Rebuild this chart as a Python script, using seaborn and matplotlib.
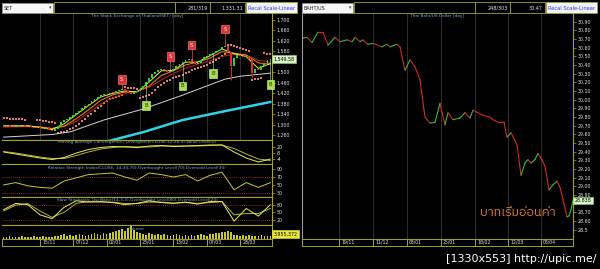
import numpy as np
import pandas as pd
import matplotlib
matplotlib.use("Agg")
import matplotlib.pyplot as plt
import matplotlib.font_manager as fm
from matplotlib.patches import Rectangle
import seaborn as sns

# ---------------- data ----------------
set_close = [1295, 1298, 1292, 1290, 1296, 1300, 1297, 1293, 1295, 1290,
             1287, 1291, 1285, 1282, 1286, 1280, 1277, 1283, 1295, 1308,
             1316, 1322, 1330, 1338, 1345, 1352, 1362, 1372, 1380, 1390,
             1396, 1404, 1412, 1418, 1415, 1422, 1420, 1426, 1430, 1434,
             1426, 1420, 1418, 1424, 1428, 1436, 1448, 1462, 1478, 1494,
             1502, 1508, 1512, 1506, 1500, 1504, 1510, 1522, 1530, 1540,
             1545, 1548, 1538, 1532, 1536, 1545, 1556, 1562, 1568, 1574,
             1580, 1586, 1594, 1600, 1578, 1525, 1552, 1566, 1560, 1556,
             1562, 1548, 1495, 1512, 1508, 1522, 1532, 1545, 1550]
set_spike_idx = [75, 82]
set_spike_low = [1470, 1478]
nan = np.nan
set_sar = [1324, 1323, 1322, 1322, 1321, 1320, 1320, 1319, nan, nan,
           nan, 1318, 1316, 1314, 1312, 1310, 1308, 1305, 1268, 1270,
           1273, 1277, 1282, 1288, 1295, 1303, 1312, 1322, 1332, 1342,
           1352, 1362, 1372, 1381, 1389, 1396, 1401, 1405, 1408, 1411,
           1442, 1441, 1440, 1438, 1436, 1401, 1404, 1408, 1414, 1422,
           1432, 1443, 1452, 1460, 1466, 1471, 1476, 1480, 1485, 1490,
           1496, 1502, 1508, 1512, 1515, 1518, 1522, 1527, 1533, 1540,
           1547, 1554, 1562, 1568, 1605, 1603, 1600, 1596, 1592, 1588,
           1584, 1580, 1470, 1472, 1474, 1476, 1572, 1570, 1568]
ind_idx = [0, 4, 8, 12, 16, 20, 24, 28, 32, 36, 40, 44, 48, 52, 56, 60, 64, 68, 72, 76, 80, 84, 88]
ma_yellow = [1295, 1295, 1295, 1288, 1281, 1303, 1338, 1372, 1405, 1419, 1428, 1424, 1462, 1505, 1506, 1538, 1538, 1562, 1588, 1570, 1559, 1514, 1533]
ma_orange = [1295, 1295, 1295, 1291, 1285, 1294, 1322, 1356, 1392, 1413, 1424, 1426, 1447, 1487, 1505, 1527, 1538, 1553, 1578, 1572, 1565, 1535, 1530]
ma_red = [1290, 1291, 1292, 1290, 1285, 1292, 1312, 1345, 1378, 1402, 1418, 1426, 1442, 1470, 1495, 1515, 1530, 1543, 1560, 1568, 1565, 1545, 1538]
ma_white_idx = [0, 16, 22, 33, 46, 59, 73, 78, 88]
ma_white = [1252, 1262, 1272, 1317, 1359, 1412, 1473, 1484, 1496]
ma_cyan_idx = [33, 46, 59, 73, 88]
ma_cyan = [1232, 1271, 1317, 1351, 1386]
sig_idx = [39, 55, 62, 73, 47, 59, 69, 88]
sig_type = ["S", "S", "S", "S", "B", "B", "B", "B"]
sig_level = [1470, 1561, 1603, 1664, 1374, 1447, 1496, 1454]
macd = [10, 6, 2, -2, -5, -1, 8, 15, 19, 21, 20, 19, 22, 23, 21, 22, 23, 24, 24, 10, -2, -10, -4]
macd_sig = [11, 8, 4, 0, -3, -3, 3, 10, 16, 19, 21, 20, 20, 22, 22, 22, 22, 23, 24, 17, 6, -4, -7]
rsi = [50, 56, 48, 44, 42, 60, 68, 76, 78, 80, 70, 62, 80, 76, 70, 76, 60, 74, 82, 38, 56, 44, 56]
stoch_k = [60, 85, 80, 40, 25, 70, 95, 90, 92, 88, 80, 85, 95, 88, 85, 90, 82, 92, 92, 15, 65, 35, 80]
stoch_d = [55, 78, 84, 55, 30, 50, 85, 92, 90, 90, 84, 84, 90, 90, 86, 88, 85, 88, 92, 40, 45, 45, 65]
volume = [2.5, 2, 3, 2, 2.5, 2, 3, 2.5, 2, 2, 3, 2.5, 2, 3, 2, 2.5, 2, 3,
          3, 4, 5, 3.5, 4, 3, 4, 5, 4, 3.5, 4, 5, 6, 5, 4, 6,
          5, 6, 7, 8, 9, 10, 8, 11, 13, 9, 7, 6,
          5, 4, 6, 5, 4, 5, 4, 5, 4, 3.5, 4, 5, 4, 3.5, 4,
          3.5, 4, 3, 4, 5, 4, 3.5, 5, 5, 6, 6, 7, 7,
          8, 7, 4, 4, 3.5, 4, 3, 4, 3, 3.5, 3, 4, 3, 3.5, 3]
# 1,540 is hidden under the last-price box in the picture
set_ticks = ["1,700", "1,660", "1,620", "1,580", "1,500", "1,460",
             "1,420", "1,380", "1,340", "1,300", "1,260"]
macd_ticks = ["20", "8", "-4"]
rsi_ticks = ["90", "70", "50", "30"]
stoch_ticks = ["80", "50", "20"]
set_dates = ["15/11", "07/12", "02/01", "23/01", "13/02", "07/03", "28/03"]
set_date_pos = [12, 23, 34, 45, 56, 67, 78]

baht_day = [0.5, 2.5, 5, 8, 10.5, 13, 16.5, 19, 22.5, 25, 26.5, 29, 30.5, 33, 35.5,
            40, 42.5, 44, 47.5, 49, 51.5, 54, 56.5, 59, 61.5, 64, 66.5, 69, 71.5, 73,
            75.5, 79, 81.5, 84, 85.5, 88, 90.5, 94, 95.5, 98, 101, 102.5, 104.5, 107.5,
            109.5, 111.5, 113, 114.5, 116.5, 118, 120, 121.5, 123.5, 125.5, 127.5, 129,
            130.5, 132.5, 133.5, 134.5, 135.5]
baht = [30.71, 30.72, 30.66, 30.78, 30.78, 30.63, 30.72, 30.67, 30.69, 30.67, 30.72,
        30.67, 30.69, 30.64, 30.65, 30.61, 30.64, 30.61, 30.64, 30.61, 30.34, 30.46,
        30.38, 30.23, 29.80, 29.73, 29.74, 29.96, 29.71, 29.85, 29.77, 29.79, 29.85,
        29.79, 29.88, 29.85, 29.82, 29.80, 29.77, 29.74, 29.74, 29.57, 29.62, 29.48,
        29.13, 29.27, 29.31, 29.27, 29.31, 29.38, 29.31, 29.23, 28.96, 29.02, 29.06,
        28.99, 28.85, 28.65, 28.66, 28.73, 28.84]
# 28.80 is hidden under the last-price box in the picture
baht_ticks = ["30.90", "30.80", "30.70", "30.60", "30.50", "30.40", "30.30", "30.20",
              "30.10", "30.00", "29.90", "29.80", "29.70", "29.60", "29.50", "29.40",
              "29.30", "29.20", "29.10", "29.00", "28.90", "28.70", "28.60", "28.5"]
baht_dates = ["19/11", "11/12", "03/01", "25/01", "18/02", "12/03", "03/04"]
baht_date_pos = [18.5, 35.5, 52.5, 69.5, 86.5, 103, 119.5]

# ---------------- style ----------------
sns.set_theme(style="dark")
OL = "#a3a326"
GRID = "#383838"
TXT = "#e6e6e6"
TITLE = "#78a8dc"
plt.rcParams.update({
    "font.family": ["DejaVu Sans"],
    "figure.facecolor": "black", "axes.facecolor": "black", "savefig.facecolor": "black",
    "axes.edgecolor": OL, "axes.grid": False, "axes.linewidth": 0.8,
    "xtick.color": OL, "ytick.color": OL, "text.color": TXT,
})
TICK_FS = 3.4
TITLE_FS = 3.1

W, H = 600, 269
fig = plt.figure(figsize=(W / 100, H / 100), dpi=100)


def rect(x0, y0, x1, y1):
    return [x0 / W, 1 - y1 / H, (x1 - x0) / W, (y1 - y0) / H]


def style(ax, xlim, ylim, labels=None, grid_pos=None, left=False):
    ax.set_facecolor("black")
    ax.set_xlim(*xlim)
    ax.set_ylim(*ylim)
    ax.spines["left"].set_visible(left)
    for s in ("top", "bottom", "right"):
        ax.spines[s].set_color(OL)
        ax.spines[s].set_linewidth(0.8)
    ax.yaxis.tick_right()
    if labels:
        ax.set_yticks([float(l.replace(",", "")) for l in labels])
        ax.set_yticklabels(labels)
    else:
        ax.set_yticks([])
    ax.tick_params(axis="y", labelsize=TICK_FS, labelcolor=TXT, color=OL, length=2,
                   width=0.5, pad=1.5)
    ax.set_xticks(grid_pos if grid_pos else [])
    ax.tick_params(axis="x", length=0, labelbottom=False)
    if grid_pos:
        ax.grid(axis="x", color=GRID, lw=0.6)
        ax.set_axisbelow(True)
    ax.set_xlabel("")
    ax.set_ylabel("")


def title(ax, text, y):
    ax.text(0.5, y, text, transform=ax.transAxes, ha="center", va="center",
            fontsize=TITLE_FS, color=TITLE, zorder=1)


idx = np.arange(len(set_close))
XL = (-0.5, len(set_close) - 0.5)
close = np.array(set_close, float)
opn = np.r_[close[0], close[:-1]]
up = close >= opn
lo = np.minimum(opn, close)
hi = np.maximum(opn, close)

# ---------------- SET main panel ----------------
ax = fig.add_axes(rect(2, 12, 272, 140))
title(ax, "The Stock Exchange of Thailand(SET) [day]", 0.965)
sns.lineplot(x=ma_cyan_idx, y=ma_cyan, ax=ax, color="#2fd3e6", lw=1.8)
sns.lineplot(x=ma_white_idx, y=ma_white, ax=ax, color="#d4d4d4", lw=0.7)
sns.lineplot(x=ind_idx, y=ma_red, ax=ax, color="#c42222", lw=0.7)
sns.scatterplot(x=idx, y=set_sar, ax=ax, color="#e27a7a", s=1.0, linewidth=0, marker="s")
ax.vlines(set_spike_idx, set_spike_low, lo[set_spike_idx], color="#e52b2b", lw=0.7)
ax.bar(idx, np.maximum(hi - lo, 3), bottom=lo, width=0.62,
       color=np.where(up, "#27d827", "#e52b2b"), lw=0, zorder=3)
sns.lineplot(x=ind_idx, y=ma_orange, ax=ax, color="#f08a1e", lw=0.7)
sns.lineplot(x=ind_idx, y=ma_yellow, ax=ax, color="#eeee3a", lw=0.7)
for i, t, lvl in zip(sig_idx, sig_type, sig_level):
    if t == "S":
        fc, tc, ec, lc = "#e03030", "white", "#ff9090", "#ff7070"
    else:
        fc, tc, ec, lc = "#a8e050", "#1a3a00", "#d8ff9a", "#b8f070"
    ax.plot([i, i], [close[i], lvl], color=lc, lw=0.4, zorder=4)
    ax.text(i, lvl, t, ha="center", va="center", fontsize=4, color=tc, zorder=6,
            bbox=dict(boxstyle="square,pad=0.35", fc=fc, ec=ec, lw=0.4))
style(ax, XL, (1241, 1729), set_ticks, set_date_pos)
ax.annotate("1,549.58", xy=(1.006, 1549.58), xycoords=("axes fraction", "data"),
            fontsize=TICK_FS, color="black", va="center", ha="left", annotation_clip=False,
            zorder=8, bbox=dict(boxstyle="square,pad=0.3", fc="#d8f5c8", ec="#9ad08a", lw=0.4))

# ---------------- MACD ----------------
a = fig.add_axes(rect(2, 140, 272, 164))
title(a, "Moving Average Convergence / Divergence(CLOSE,12,26,9),Value Level(0)", 0.9)
sns.lineplot(x=ind_idx, y=macd_sig, ax=a, color="#b4b43c", lw=0.7)
sns.lineplot(x=ind_idx, y=macd, ax=a, color="#eaea55", lw=0.7)
style(a, XL, (-14, 34), macd_ticks)

# ---------------- RSI ----------------
a = fig.add_axes(rect(2, 164, 272, 197))
title(a, "Relative Strength Index(CLOSE, 14,30,70),Overbought Level(70),Oversold Level(30)", 0.88)
for lvl in (70, 30):
    a.axhline(lvl, color="#c03030", ls=(0, (1, 1.5)), lw=0.6)
sns.lineplot(x=ind_idx, y=rsi, ax=a, color="#c8c840", lw=0.7)
style(a, XL, (20, 102.5), rsi_ticks)

# ---------------- Stochastic ----------------
a = fig.add_axes(rect(2, 197, 272, 225))
title(a, "Slow Stochastic Oscillator(14,3,3),Overbought Level(80),Oversold Level(20)", 0.9)
for lvl in (80, 20):
    a.axhline(lvl, color="#c03030", ls=(0, (1, 1.5)), lw=0.6)
sns.lineplot(x=ind_idx, y=stoch_d, ax=a, color="#b4b43c", lw=0.7)
sns.lineplot(x=ind_idx, y=stoch_k, ax=a, color="#eaea55", lw=0.7)
style(a, XL, (0, 110), stoch_ticks)

# ---------------- Volume ----------------
a = fig.add_axes(rect(2, 225, 272, 239))
a.bar(idx, volume, width=0.55, color="#c9c935", lw=0)
title(a, "Volume", 0.7)
style(a, XL, (0, 14))
a.annotate("3,955,372", xy=(1.006, 5), xycoords=("axes fraction", "data"),
           fontsize=TICK_FS, color="black", va="center", ha="left", annotation_clip=False,
           bbox=dict(boxstyle="square,pad=0.3", fc="#e8e83c", ec="#e8e83c", lw=0.4))


def date_row(x0, x1, xlim, pos, labels):
    d = fig.add_axes(rect(x0, 239, x1, 246))
    d.set_facecolor("black")
    d.set_xlim(*xlim)
    d.set_ylim(0, 1)
    for s in d.spines.values():
        s.set_color(OL)
        s.set_linewidth(0.7)
    d.set_xticks([])
    d.set_yticks([])
    d.vlines(pos, 0, 1, color=OL, lw=0.7)
    for p, l in zip(pos, labels):
        d.annotate(l, xy=(p, 0.5), xytext=(1.5, 0), textcoords="offset points",
                   fontsize=3.3, color=TXT, va="center", ha="left")


date_row(2, 272, XL, set_date_pos, set_dates)

# ---------------- Baht panel ----------------
ax2 = fig.add_axes(rect(302, 12, 573, 239))
title(ax2, "Thai Baht/US Dollar [day]", 0.982)
seg = pd.DataFrame({
    "day": np.repeat(baht_day, 2)[1:-1],
    "val": np.repeat(baht, 2)[1:-1],
    "seg": np.repeat(np.arange(len(baht) - 1), 2),
})
seg_col = {k: ("#35c035" if baht[k + 1] > baht[k] else "#d42a2a") for k in range(len(baht) - 1)}
sns.lineplot(data=seg, x="day", y="val", hue="seg", palette=seg_col, ax=ax2,
             lw=0.8, legend=False, estimator=None, sort=False)
style(ax2, (0, 135.5), (28.394, 31.012), baht_ticks, baht_date_pos, left=True)
ax2.spines["left"].set_color("#9a9a9a")
ax2.annotate("28.838", xy=(1.006, 28.838), xycoords=("axes fraction", "data"),
             fontsize=TICK_FS, color="black", va="center", ha="left", annotation_clip=False,
             zorder=8, bbox=dict(boxstyle="square,pad=0.3", fc="#d8f5c8", ec="#9ad08a", lw=0.4))
date_row(302, 573, (0, 135.5), baht_date_pos, baht_dates)

# ---------------- overlay: header, notes ----------------
ov = fig.add_axes([0, 0, 1, 1], zorder=20)
ov.set_xlim(0, W)
ov.set_ylim(H, 0)
ov.axis("off")


def box(x, y, w, h, fc, ec):
    ov.add_patch(Rectangle((x, y), w, h, fc=fc, ec=ec, lw=0.6))


for off, name, cnt, val in [(0, "SET", "281/319", "1,331.31"), (300, "BAHT/US", "248/303", "30.47")]:
    box(2 + off, 3, 51, 10, "#f6f6f6", "#909090")
    ov.text(4 + off, 8, name, fontsize=3.5, color="#202020", va="center")
    ov.text(50 + off, 8, "\u25be", fontsize=3.5, color="#404040", va="center", ha="center")
    box(54 + off, 2, 121, 11, "black", OL)
    box(175 + off, 2, 35, 11, "black", OL)
    ov.text(208 + off, 8, cnt, fontsize=3.5, color=TXT, va="center", ha="right")
    box(210 + off, 2, 35, 11, "black", OL)
    ov.text(243 + off, 8, val, fontsize=3.5, color=TXT, va="center", ha="right")
    box(246 + off, 2, 51, 11, "#f2f2ff", OL)
    ov.text(271.5 + off, 8, "Recal Scale-Linear", fontsize=3.7, color="#2a3ad8",
            va="center", ha="center")


def font_with(ch):
    try:
        from fontTools.ttLib import TTFont, TTCollection
    except Exception:
        return None
    fl = sorted(fm.fontManager.ttflist, key=lambda f: "thai" not in f.name.lower())
    for f in fl:
        try:
            if f.fname.lower().endswith((".ttc", ".otc")):
                fonts = TTCollection(f.fname, lazy=True).fonts
            else:
                fonts = [TTFont(f.fname, lazy=True)]
            for t in fonts:
                cm = t.getBestCmap()
                if cm and ord(ch) in cm:
                    return f.name
        except Exception:
            continue
    return None


thai_font = font_with("\u0e1a")
thai_family = [thai_font, "DejaVu Sans"] if thai_font else ["DejaVu Sans"]
ov.text(480, 212, "บาทเริ่มอ่อนค่า", fontsize=9, color="#e07a2c", va="center",
        ha="left", family=thai_family)
ov.text(597, 259, "[1330x553] http://upic.me/", fontsize=8, color="white",
        va="center", ha="right", family=["DejaVu Sans"])

fig.savefig("out.png", dpi=100, facecolor="black")
